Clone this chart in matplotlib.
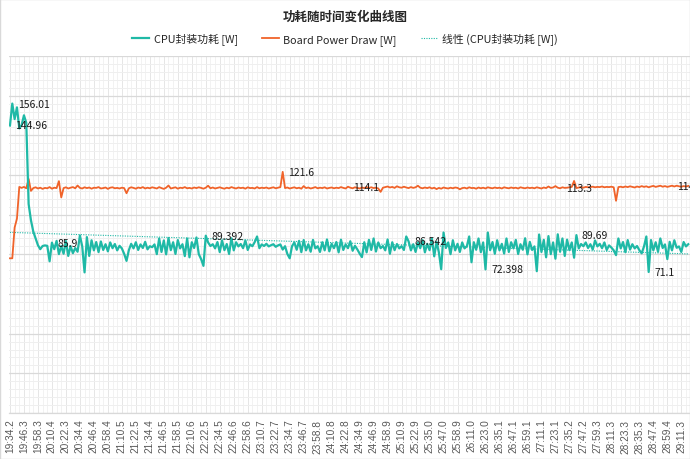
import numpy as np
import matplotlib
matplotlib.use("Agg")
import matplotlib.pyplot as plt
from matplotlib.ticker import MultipleLocator, FixedLocator
from matplotlib.patches import Rectangle

plt.rcParams['font.family'] = ['Noto Sans CJK SC', 'DejaVu Sans']

title = "功耗随时间变化曲线图"
series_cpu_name = "CPU封装功耗 [W]"
series_board_name = "Board Power Draw [W]"
trend_name = "线性 (CPU封装功耗 [W])"

tick_labels = ["19:34.2", "19:46.3", "19:58.3", "20:10.4", "20:22.3", "20:34.4", "20:46.4",
               "20:58.4", "21:10.5", "21:22.5", "21:34.4", "21:46.5", "21:58.5", "22:10.6",
               "22:22.5", "22:34.5", "22:46.6", "22:58.6", "23:10.7", "23:22.7", "23:34.7",
               "23:46.7", "23:58.8", "24:10.8", "24:22.8", "24:34.9", "24:46.9", "24:58.9",
               "25:10.9", "25:22.9", "25:35.0", "25:47.0", "25:58.9", "26:11.0", "26:23.0",
               "26:35.1", "26:47.1", "26:59.1", "27:11.1", "27:23.1", "27:35.2", "27:47.2",
               "27:59.3", "28:11.3", "28:23.3", "28:35.3", "28:47.4", "28:59.4", "29:11.3"]

cpu = [
    144.96, 156.01, 148.2, 154.1, 143.5, 145.2, 150.1, 146.3, 105.4, 97.2,
    91.5, 88.1, 84.6, 82.6, 84.2, 84.5, 84.3, 76.5, 85.9, 82.6,
    86.8, 80.1, 84.2, 80.3, 86.7, 79.2, 84.1, 80.6, 83.2, 81.3,
    89.5, 84.0, 70.9, 88.7, 79.2, 87.1, 82.0, 86.2, 81.1, 86.5,
    82.2, 85.1, 81.5, 86.0, 83.1, 85.2, 82.0, 84.3, 83.0, 80.2,
    76.7, 82.1, 85.3, 83.0, 86.1, 82.2, 85.0, 83.2, 86.3, 82.5,
    84.1, 83.6, 85.0, 80.1, 88.0, 81.2, 87.0, 80.0, 88.2, 82.1,
    86.1, 80.2, 87.2, 83.0, 85.1, 79.1, 88.0, 78.5, 86.1, 83.2,
    88.5, 80.1, 77.6, 74.2, 89.392, 86.0, 84.2, 85.1, 83.0, 86.2,
    81.1, 87.0, 82.1, 85.2, 80.2, 88.1, 82.0, 86.1, 84.0, 85.2,
    83.1, 87.0, 82.2, 85.0, 84.1, 86.2, 89.0, 83.1, 85.0, 84.2,
    85.3, 84.0, 84.6, 85.1, 83.8, 84.5, 85.0, 82.4, 84.1, 80.2,
    78.0, 84.1, 86.0, 82.3, 86.8, 81.1, 87.2, 82.0, 85.1, 81.3,
    87.3, 83.0, 84.1, 81.2, 86.1, 82.0, 87.5, 81.5, 85.3, 83.1,
    86.2, 81.0, 87.4, 82.2, 85.0, 83.1, 86.6, 81.8, 84.3, 82.5,
    80.4, 78.6, 86.1, 81.0, 87.3, 82.2, 88.0, 81.4, 86.0, 83.1,
    84.2, 82.0, 87.5, 80.3, 86.1, 82.1, 85.2, 83.0, 84.1, 82.2,
    89.0, 86.542, 82.0, 85.1, 81.2, 86.0, 83.1, 87.2, 81.0, 85.3,
    82.1, 88.0, 79.0, 86.2, 81.0, 72.5, 91.0, 83.2, 86.0, 80.1,
    87.1, 82.0, 85.3, 81.2, 86.0, 83.0, 84.1, 89.0, 76.0, 86.1,
    82.3, 88.0, 81.1, 86.0, 72.398, 91.0, 82.1, 86.2, 80.3, 87.1,
    82.0, 85.3, 80.4, 88.0, 81.2, 86.1, 83.0, 87.3, 80.2, 85.1,
    82.3, 88.1, 80.0, 86.3, 82.2, 84.0, 71.5, 90.0, 81.2, 87.3,
    78.5, 89.2, 80.1, 86.0, 77.8, 90.1, 81.3, 88.0, 79.2, 87.4,
    82.1, 86.0, 78.3, 89.69, 83.0, 85.2, 84.1, 86.0, 83.2, 85.1,
    82.4, 87.0, 84.0, 85.3, 83.1, 86.0, 82.2, 84.5, 83.4, 82.0,
    79.6, 88.0, 83.0, 86.2, 81.1, 87.2, 82.4, 85.1, 83.0, 84.2,
    82.1, 80.5, 84.0, 89.0, 71.1, 87.2, 82.0, 86.1, 81.3, 88.0,
    83.2, 85.0, 77.6, 86.3, 82.0, 87.1, 83.3, 84.0, 81.2, 86.2,
    84.0, 85.1,
]

board = [
    78.0, 78.0, 93.5, 98.0, 114.0, 113.5, 114.0, 113.3, 118.0, 112.0,
    113.4, 113.8, 113.2, 113.6, 113.0, 113.5, 113.3, 113.9, 113.1, 113.6,
    113.4, 116.9, 108.7, 113.4, 113.8, 113.2, 113.6, 113.9, 113.3, 114.7,
    113.5, 113.2, 113.8, 113.4, 113.7, 113.1, 113.6, 113.5, 113.9, 113.2,
    113.4, 113.7, 113.0, 113.6, 113.8, 113.3, 113.5, 113.2, 113.6, 113.4,
    110.8, 113.3, 113.8, 113.5, 113.1, 113.7, 113.4, 113.9, 113.2, 113.6,
    113.3, 113.8, 113.5, 113.2, 113.9, 113.4, 113.0, 113.6, 114.7, 113.2,
    113.5, 113.8, 113.1, 113.6, 113.4, 113.9, 113.3, 113.5, 113.2, 113.7,
    113.4, 113.8, 113.5, 113.1, 113.6, 114.6, 113.3, 113.7, 113.2, 113.5,
    113.8, 113.4, 113.1, 113.6, 113.3, 113.9, 113.5, 113.2, 113.7, 113.4,
    113.6, 113.1, 113.8, 113.4, 113.5, 113.2, 113.9, 113.3, 113.6, 113.4,
    113.7, 113.2, 113.5, 113.8, 113.3, 113.6, 113.9, 121.6, 113.4, 113.7,
    113.2, 113.5, 113.8, 113.3, 113.6, 113.1, 114.4, 113.4, 113.7, 113.2,
    113.5, 113.9, 113.3, 113.6, 113.4, 113.8, 113.2, 113.5, 113.7, 113.3,
    113.6, 113.4, 113.9, 113.5, 113.2, 114.1, 113.6, 113.3, 113.8, 113.5,
    113.2, 113.7, 113.4, 113.9, 113.5, 113.8, 113.4, 113.6, 113.2, 111.5,
    113.6, 113.9, 114.2, 113.7, 114.0, 113.5, 114.3, 113.8, 113.6, 114.1,
    113.7, 113.4, 113.9, 113.5, 113.8, 114.6, 113.6, 113.3, 113.7, 113.4,
    113.8, 113.2, 113.6, 112.9, 113.5, 113.1, 113.7, 113.4, 113.2, 113.6,
    113.3, 113.7, 113.5, 112.8, 113.4, 113.6, 113.2, 113.8, 113.4, 113.5,
    113.1, 113.7, 113.3, 113.6, 113.2, 113.8, 113.5, 113.3, 113.7, 113.4,
    113.6, 113.2, 113.8, 113.5, 113.3, 113.7, 113.4, 113.6, 113.2, 113.8,
    113.5, 113.3, 113.7, 113.4, 113.6, 113.3, 113.8, 113.5, 113.2, 113.7,
    113.4, 114.2, 113.5, 113.7, 114.4, 113.6, 113.3, 113.8, 113.5, 113.6,
    113.8, 114.0, 117.0, 113.4, 113.7, 113.9, 113.6, 114.0, 113.8, 113.9,
    114.1, 113.8, 114.0, 113.9, 114.2, 113.8, 114.0, 113.9, 114.1, 113.8,
    107.0, 113.9, 114.1, 113.8, 114.2, 113.9, 114.3, 114.0, 113.7, 114.2,
    113.9, 114.4, 114.0, 114.3, 113.8, 114.2, 114.5, 114.0, 114.3, 114.6,
    114.1, 114.4, 114.0, 114.3, 114.6, 114.2, 114.6, 114.3, 114.1, 114.4,
    114.2, 114.5,
]

cpu_label_idx = [0, 1, 18, 84, 171, 204, 243, 274]
board_label_idx = [117, 145, 236, 284]

CPU_COLOR = "#1fb9a6"
BOARD_COLOR = "#f0632a"

x = np.arange(len(cpu))
coef = np.polyfit(x, np.array(cpu), 1)
trend = np.polyval(coef, x)

fig = plt.figure(figsize=(6.9, 4.6), dpi=100)
W, H = 690, 460
ax = fig.add_axes([8.8 / W, 46 / H, 683 / W, 357 / H])

ax.plot(x, trend, color=CPU_COLOR, lw=0.8, ls=(0, (1, 1.2)), label=trend_name, zorder=3)
ax.plot(x, board, color=BOARD_COLOR, lw=1.3, label=series_board_name, zorder=4)
ax.plot(x, cpu, color=CPU_COLOR, lw=1.6, label=series_cpu_name, zorder=5)

for i in cpu_label_idx:
    ax.annotate(f"{cpu[i]:g}", (x[i], cpu[i]), xytext=(4, 0), textcoords="offset points",
                va="center", ha="left", fontsize=7.5, color="#1a1a1a", zorder=6)
for i in board_label_idx:
    ax.annotate(f"{board[i]:g}", (x[i], board[i]), xytext=(4, 0), textcoords="offset points",
                va="center", ha="left", fontsize=7.5, color="#1a1a1a", zorder=6)

ax.set_xlim(-0.5, len(cpu) - 0.5 + 1)
ax.set_ylim(0, 180)
ax.yaxis.set_major_locator(MultipleLocator(20))
ax.yaxis.set_minor_locator(MultipleLocator(4))
tick_pos = np.arange(len(tick_labels)) * 6
ax.xaxis.set_major_locator(FixedLocator(tick_pos))
ax.xaxis.set_minor_locator(MultipleLocator(2))
ax.set_xticklabels(tick_labels, rotation=90, fontsize=7.3, color="#595959",
                   family=["Liberation Sans", "DejaVu Sans"])
ax.set_yticklabels([])
ax.tick_params(axis="both", which="both", length=0, pad=4)

ax.grid(True, which="major", axis="y", color="#d9d9d9", lw=0.9)
ax.grid(True, which="minor", axis="y", color="#efefef", lw=0.7)
ax.grid(True, which="major", axis="x", color="#e6e6e6", lw=0.7)
ax.grid(True, which="minor", axis="x", color="#f0f0f0", lw=0.6)
ax.set_axisbelow(True)
for s in ["top", "right", "left"]:
    ax.spines[s].set_visible(False)
ax.spines["bottom"].set_color("#d9d9d9")
ax.spines["bottom"].set_linewidth(0.9)

fig.text(0.5, 1 - 17 / H, title, ha="center", va="center", fontsize=9, fontweight="bold",
         color="#262626")
handles, labels = ax.get_legend_handles_labels()
order = [2, 1, 0]
fig.legend([handles[k] for k in order], [labels[k] for k in order], loc="center",
           bbox_to_anchor=(0.5, 1 - 40 / H), ncol=3, frameon=False, fontsize=7.8,
           handlelength=1.6, columnspacing=2.2, handletextpad=0.4, labelcolor="#262626")

fig.patches.append(Rectangle((0, 0), 1, 1, transform=fig.transFigure, fill=False,
                             edgecolor="#d9d9d9", lw=1.0))
fig.savefig("out.png", dpi=100)
